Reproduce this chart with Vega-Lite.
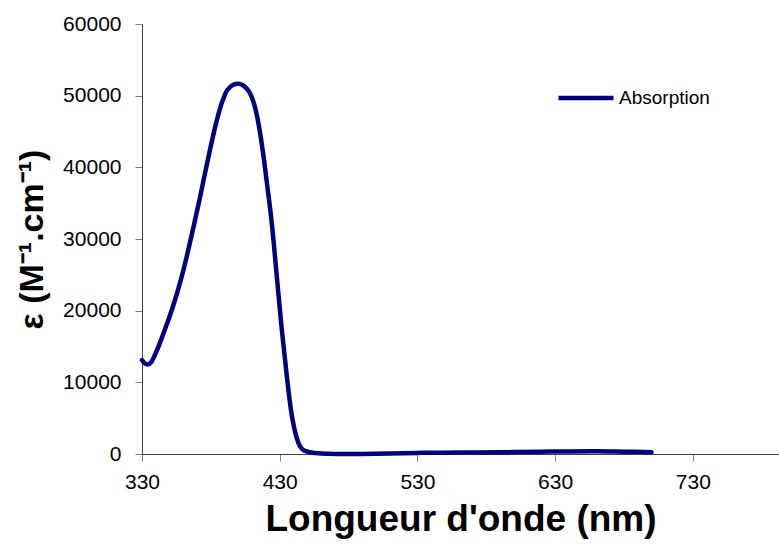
{
  "$schema": "https://vega.github.io/schema/vega-lite/v6.json",
  "width": 637,
  "height": 430,
  "autosize": {"type": "none"},
  "padding": {"left": 142, "top": 24, "right": 0, "bottom": 90},
  "background": "white",
  "config": {
    "font": "Liberation Sans",
    "view": {"stroke": null},
    "axis": {"grid": false}
  },
  "data": {
    "values": [
      {"nm": 330, "eps": 13100, "series": "Absorption"},
      {"nm": 332, "eps": 12650, "series": "Absorption"},
      {"nm": 334.5, "eps": 12500, "series": "Absorption"},
      {"nm": 337, "eps": 12900, "series": "Absorption"},
      {"nm": 340, "eps": 14100, "series": "Absorption"},
      {"nm": 344, "eps": 16000, "series": "Absorption"},
      {"nm": 348, "eps": 18100, "series": "Absorption"},
      {"nm": 352, "eps": 20300, "series": "Absorption"},
      {"nm": 356, "eps": 22800, "series": "Absorption"},
      {"nm": 360, "eps": 25600, "series": "Absorption"},
      {"nm": 364, "eps": 28800, "series": "Absorption"},
      {"nm": 368, "eps": 32200, "series": "Absorption"},
      {"nm": 372, "eps": 35700, "series": "Absorption"},
      {"nm": 376, "eps": 39400, "series": "Absorption"},
      {"nm": 380, "eps": 43000, "series": "Absorption"},
      {"nm": 384, "eps": 46300, "series": "Absorption"},
      {"nm": 388, "eps": 49000, "series": "Absorption"},
      {"nm": 392, "eps": 50800, "series": "Absorption"},
      {"nm": 396, "eps": 51500, "series": "Absorption"},
      {"nm": 400, "eps": 51650, "series": "Absorption"},
      {"nm": 403, "eps": 51500, "series": "Absorption"},
      {"nm": 406, "eps": 51000, "series": "Absorption"},
      {"nm": 408.5, "eps": 50300, "series": "Absorption"},
      {"nm": 411, "eps": 49100, "series": "Absorption"},
      {"nm": 413.5, "eps": 47200, "series": "Absorption"},
      {"nm": 416, "eps": 44500, "series": "Absorption"},
      {"nm": 418.5, "eps": 41200, "series": "Absorption"},
      {"nm": 421, "eps": 37400, "series": "Absorption"},
      {"nm": 424.2, "eps": 32300, "series": "Absorption"},
      {"nm": 427.8, "eps": 25000, "series": "Absorption"},
      {"nm": 431.4, "eps": 17600, "series": "Absorption"},
      {"nm": 435.1, "eps": 11000, "series": "Absorption"},
      {"nm": 438.7, "eps": 5500, "series": "Absorption"},
      {"nm": 442.3, "eps": 2300, "series": "Absorption"},
      {"nm": 445, "eps": 1000, "series": "Absorption"},
      {"nm": 448, "eps": 450, "series": "Absorption"},
      {"nm": 454, "eps": 180, "series": "Absorption"},
      {"nm": 465, "eps": 40, "series": "Absorption"},
      {"nm": 478, "eps": 0, "series": "Absorption"},
      {"nm": 500, "eps": 30, "series": "Absorption"},
      {"nm": 530, "eps": 150, "series": "Absorption"},
      {"nm": 560, "eps": 200, "series": "Absorption"},
      {"nm": 590, "eps": 240, "series": "Absorption"},
      {"nm": 620, "eps": 330, "series": "Absorption"},
      {"nm": 660, "eps": 400, "series": "Absorption"},
      {"nm": 680, "eps": 330, "series": "Absorption"},
      {"nm": 700, "eps": 250, "series": "Absorption"}
    ]
  },
  "mark": {"type": "line", "interpolate": "catmull-rom", "strokeWidth": 4.5, "strokeCap": "round", "clip": false},
  "encoding": {
    "x": {
      "field": "nm", "type": "quantitative",
      "scale": {"domain": [330, 792.6], "nice": false, "zero": false},
      "axis": {
        "values": [330, 430, 530, 630, 730],
        "format": "d",
        "labelFlush": false,
        "title": "Longueur d'onde (nm)",
        "titleFont": "Liberation Sans", "titleFontSize": 37, "titleFontWeight": "bold", "titleColor": "black",
        "titlePadding": 9,
        "labelFontSize": 21, "labelColor": "black", "labelPadding": 10,
        "tickSize": 7, "tickColor": "#808080", "domainColor": "#404040", "domainWidth": 1
      }
    },
    "y": {
      "field": "eps", "type": "quantitative",
      "scale": {"domain": [0, 60000], "nice": false},
      "axis": {
        "values": [0, 10000, 20000, 30000, 40000, 50000, 60000],
        "format": "d",
        "labelFlush": false,
        "title": "ε (M⁻¹.cm⁻¹)",
        "titleFont": "Liberation Sans", "titleFontSize": 34, "titleFontWeight": "bold", "titleColor": "black",
        "titlePadding": 13,
        "labelFontSize": 21, "labelColor": "black", "labelPadding": 14,
        "tickSize": 7, "tickColor": "#808080", "domainColor": "#404040", "domainWidth": 1
      }
    },
    "color": {
      "field": "series", "type": "nominal",
      "scale": {"range": ["#000080"]},
      "legend": {
        "title": null, "orient": "none", "legendX": 414, "legendY": 44,
        "symbolType": "stroke", "symbolSize": 3025, "symbolStrokeWidth": 4.5,
        "labelFontSize": 19, "labelColor": "black", "labelOffset": 3
      }
    }
  }
}
